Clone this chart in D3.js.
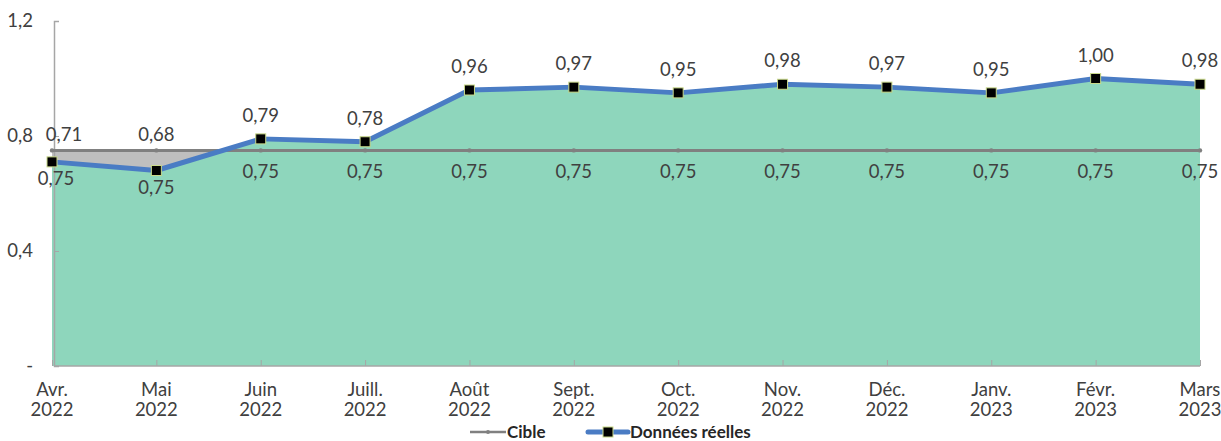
<!DOCTYPE html>
<html>
<head>
<meta charset="utf-8">
<script src="https://cdn.jsdelivr.net/npm/d3@7"></script>
<style>
  body { margin: 0; background: #fff; }
  svg { display: block; font-family: Lato, "Open Sans", sans-serif; }
</style>
</head>
<body>
<svg id="chart" width="1221" height="441"></svg>
<script>
// Monthly categories (two-line labels)
const months = ["Avr.", "Mai", "Juin", "Juill.", "Août", "Sept.", "Oct.", "Nov.", "Déc.", "Janv.", "Févr.", "Mars"];
const years = ["2022", "2022", "2022", "2022", "2022", "2022", "2022", "2022", "2022", "2023", "2023", "2023"];
// Series
const cible = [0.75, 0.75, 0.75, 0.75, 0.75, 0.75, 0.75, 0.75, 0.75, 0.75, 0.75, 0.75];
const reelles = [0.71, 0.68, 0.79, 0.78, 0.96, 0.97, 0.95, 0.98, 0.97, 0.95, 1.00, 0.98];
// Y ticks
const yTicks = [0, 0.4, 0.8, 1.2];

const fmt = (v, d) => v === 0 ? "-" : v.toFixed(d).replace(".", ",");

const svg = d3.select("#chart");
const plotLeft = 52, plotRight = 1200, plotTop = 21, plotBottom = 366;
const fs = 18.5;

const x = d3.scalePoint().domain(d3.range(months.length)).range([plotLeft, plotRight]);
const y = d3.scaleLinear().domain([0, 1.2]).range([plotBottom, plotTop]);

const textColor = "#404040";
const axisColor = "#a6a6a6";

// Areas: target (gray) underneath, actual (green) on top
const area = d3.area().x((d, i) => x(i)).y0(y(0)).y1(d => y(d));
svg.append("path").datum(cible).attr("d", area).attr("fill", "#bfbfbf");
svg.append("path").datum(reelles).attr("d", area).attr("fill", "#8ed6bc");

// Y axis
const yAxis = d3.axisLeft(y).tickValues(yTicks).tickSize(-5).tickPadding(21)
  .tickFormat(d => fmt(d, 1));
const gy = svg.append("g").attr("transform", `translate(${plotLeft + 2},0)`).call(yAxis);
gy.select(".domain").attr("stroke", axisColor).attr("stroke-width", 1.5);
gy.selectAll(".tick line").attr("stroke", axisColor);
gy.selectAll(".tick text").attr("fill", textColor).attr("font-size", fs)
  .attr("font-family", "Lato, sans-serif");

// X axis
const xAxis = d3.axisBottom(x).tickSize(-6).tickFormat("");
const gx = svg.append("g").attr("transform", `translate(0,${plotBottom})`).call(xAxis);
gx.select(".domain").attr("stroke", axisColor).attr("stroke-width", 1.5)
  .attr("d", `M${plotLeft + 2},0H${plotRight}`);
gx.selectAll(".tick line").attr("stroke", axisColor);

const xl = svg.append("g").attr("fill", textColor).attr("font-size", fs).attr("text-anchor", "middle");
months.forEach((m, i) => {
  xl.append("text").attr("x", x(i)).attr("y", 396).text(m);
  xl.append("text").attr("x", x(i)).attr("y", 416).text(years[i]);
});

// Target line
const line = d3.line().x((d, i) => x(i)).y(d => y(d));
svg.append("path").datum(cible).attr("d", line).attr("fill", "none")
  .attr("stroke", "#808080").attr("stroke-width", 3);
svg.append("g").selectAll("circle").data(cible).join("circle")
  .attr("cx", (d, i) => x(i)).attr("cy", d => y(d)).attr("r", 2.2).attr("fill", "#808080");

// Actual line
svg.append("path").datum(reelles).attr("d", line).attr("fill", "none")
  .attr("stroke", "#4a7cc4").attr("stroke-width", 5).attr("stroke-linejoin", "round");
svg.append("g").selectAll("rect").data(reelles).join("rect")
  .attr("x", (d, i) => x(i) - 5).attr("y", d => y(d) - 5)
  .attr("width", 10).attr("height", 10)
  .attr("fill", "#000").attr("stroke", "#c9d98a").attr("stroke-width", 1);

// Value labels
const lbl = svg.append("g").attr("fill", textColor).attr("font-size", fs).attr("text-anchor", "middle");
reelles.forEach((v, i) => {
  const ly = Math.min(y(v) - 24, y(cible[i]) - 16);
  lbl.append("text").attr("x", x(i) + (i === 0 ? 12 : 0)).attr("y", ly + 7).text(fmt(v, 2));
});
cible.forEach((v, i) => {
  const ly = Math.max(y(v) + 21, y(reelles[i]) + 16);
  lbl.append("text").attr("x", x(i) + (i === 0 ? 4 : 0)).attr("y", ly + 7).text(fmt(v, 2));
});

// Legend
const lg = svg.append("g").attr("font-size", 17).attr("font-weight", "bold").attr("fill", "#262626");
lg.append("line").attr("x1", 470).attr("x2", 506).attr("y1", 432).attr("y2", 432)
  .attr("stroke", "#808080").attr("stroke-width", 2.5);
lg.append("circle").attr("cx", 488).attr("cy", 432).attr("r", 2).attr("fill", "#808080");
lg.append("text").attr("x", 507).attr("y", 438).text("Cible");
lg.append("line").attr("x1", 588).attr("x2", 628).attr("y1", 432).attr("y2", 432)
  .attr("stroke", "#4a7cc4").attr("stroke-width", 5).attr("stroke-linecap", "round");
lg.append("rect").attr("x", 603).attr("y", 427).attr("width", 10).attr("height", 10)
  .attr("fill", "#000").attr("stroke", "#c9d98a");
lg.append("text").attr("x", 630).attr("y", 438).text("Données réelles");
</script>
</body>
</html>
